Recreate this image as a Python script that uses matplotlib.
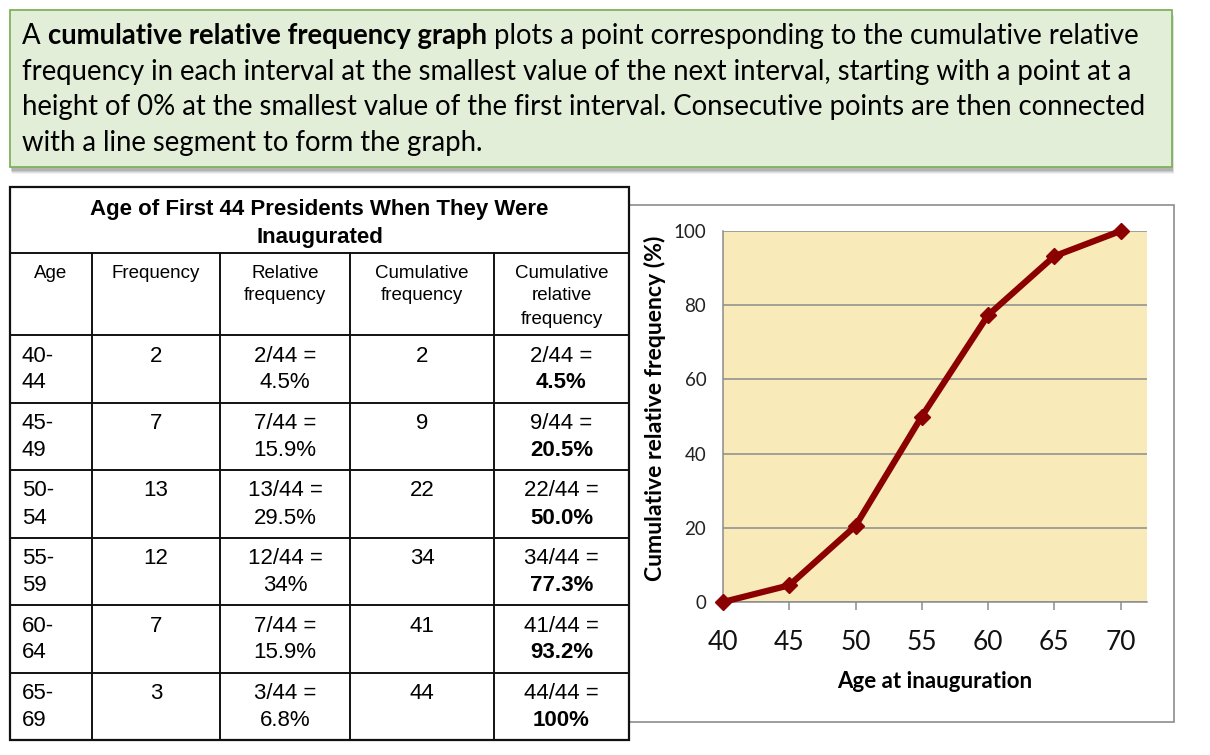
import matplotlib
matplotlib.use("Agg")
import matplotlib.pyplot as plt
from matplotlib.patches import Rectangle

# -------------------------
# data
# -------------------------
age_bins = ["40-44", "45-49", "50-54", "55-59", "60-64", "65-69"]
freq = [2, 7, 13, 12, 7, 3]
rel_freq = ["4.5%", "15.9%", "29.5%", "34%", "15.9%", "6.8%"]
cum_freq = [2, 9, 22, 34, 41, 44]
cum_rel = ["4.5%", "20.5%", "50.0%", "77.3%", "93.2%", "100%"]
total = 44

ages = [40, 45, 50, 55, 60, 65, 70]
cum_rel_pct = [0, 4.5, 20.5, 50.0, 77.3, 93.2, 100]

headers = [["Age"], ["Frequency"], ["Relative", "frequency"],
           ["Cumulative", "frequency"], ["Cumulative", "relative", "frequency"]]
table_title = ["Age of First 44 Presidents When They Were", "Inaugurated"]

intro_bold = "cumulative relative frequency graph"
intro_lines = [
    "plots a point corresponding to the cumulative relative",
    "frequency in each interval at the smallest value of the next interval, starting with a point at a",
    "height of 0% at the smallest value of the first interval. Consecutive points are then connected",
    "with a line segment to form the graph.",
]

W, H = 1210, 755
fig = plt.figure(figsize=(W / 100, H / 100), dpi=100)
bg = fig.add_axes([0, 0, 1, 1])
bg.set_xlim(0, W)
bg.set_ylim(H, 0)
bg.axis("off")

# -------------------------
# intro box
# -------------------------
for i, a in enumerate([0.05, 0.07, 0.09, 0.12]):
    off = 6 - i
    bg.add_patch(Rectangle((10 + off * 0.3, 10 + off), 1162, 158, facecolor="black",
                           alpha=a, edgecolor="none", zorder=1))
bg.add_patch(Rectangle((10, 10), 1162, 157, facecolor="#E3EED9", edgecolor="#7DB35A",
                       lw=1.3, zorder=2))

txt_font = dict(family="Lato", fontsize=19.8, color="black", va="center", zorder=3)
line_y = [36, 72, 107, 143]
fig.canvas.draw()
rend = fig.canvas.get_renderer()
inv = bg.transData.inverted()

x = 22
for s, w in [("A ", "normal"), (intro_bold, "bold"), (" " + intro_lines[0], "normal")]:
    t = bg.text(x, line_y[0], s, fontweight=w, **txt_font)
    bb = t.get_window_extent(renderer=rend)
    x = inv.transform((bb.x1, bb.y0))[0]
for s, y in zip(intro_lines[1:], line_y[1:]):
    bg.text(22, y, s, **txt_font)

# -------------------------
# table
# -------------------------
col_x = [10, 92, 220, 350, 494, 629]
title_top, head_top, rows_top, tab_bot = 187, 253, 335, 740
row_h = (tab_bot - rows_top) / len(age_bins)

# chart frame (partly behind the table)
bg.add_patch(Rectangle((600, 205), 574, 517, facecolor="white", edgecolor="#8C8C8C",
                       lw=1.2, zorder=1))
bg.add_patch(Rectangle((col_x[0], title_top), col_x[-1] - col_x[0], tab_bot - title_top,
                       facecolor="white", edgecolor="#111111", lw=1.6, zorder=2))
lc = "#111111"
bg.plot([col_x[0], col_x[-1]], [head_top, head_top], color=lc, lw=1.4, zorder=3)
for k in range(len(age_bins)):
    yy = rows_top + k * row_h
    bg.plot([col_x[0], col_x[-1]], [yy, yy], color=lc, lw=1.4, zorder=3)
for cx in col_x[1:-1]:
    bg.plot([cx, cx], [head_top, tab_bot], color=lc, lw=1.4, zorder=3)

tfont = dict(family="Liberation Sans", color="black", va="center", zorder=4)
cx_mid = (col_x[0] + col_x[-1]) / 2
for s, y in zip(table_title, [209, 237]):
    bg.text(cx_mid, y, s, ha="center", fontsize=16, fontweight="bold", **tfont)

for j, lines in enumerate(headers):
    cx = (col_x[j] + col_x[j + 1]) / 2
    for i, s in enumerate(lines):
        bg.text(cx, 273 + i * 23, s, ha="center", fontsize=13.5, **tfont)

for k in range(len(age_bins)):
    top = rows_top + k * row_h
    y1, y2 = top + 21, top + 48
    a, b = age_bins[k].split("-")
    bg.text(22, y1, a + "-", ha="left", fontsize=16, **tfont)
    bg.text(22, y2, b, ha="left", fontsize=16, **tfont)
    cells = [
        [str(freq[k])],
        [f"{freq[k]}/{total} =", rel_freq[k]],
        [str(cum_freq[k])],
        [f"{cum_freq[k]}/{total} =", cum_rel[k]],
    ]
    for j, lines in enumerate(cells, start=1):
        cx = (col_x[j] + col_x[j + 1]) / 2
        for i, s in enumerate(lines):
            fw = "bold" if (j == 4 and i == 1) else "normal"
            bg.text(cx, [y1, y2][i], s, ha="center", fontsize=16, fontweight=fw, **tfont)

# -------------------------
# chart
# -------------------------
left, right, top_px, bot_px = 723, 1147, 231, 602
ax = fig.add_axes([left / W, 1 - bot_px / H, (right - left) / W, (bot_px - top_px) / H])
ax.set_facecolor("#F9EAB9")
ax.plot(ages, cum_rel_pct, color="#8B0000", lw=4.5, marker="D", markersize=8,
        clip_on=False, zorder=5)
ax.set_xlim(40, 72)
ax.set_ylim(0, 100)
ax.set_xticks(ages)
ax.set_yticks([0, 20, 40, 60, 80, 100])
ax.yaxis.grid(True, color="#8C8C8C", lw=1.1)
ax.set_axisbelow(True)
for sp in ["top", "right"]:
    ax.spines[sp].set_visible(False)
for sp in ["left", "bottom"]:
    ax.spines[sp].set_color("#8C8C8C")
    ax.spines[sp].set_linewidth(1.1)
ax.tick_params(axis="y", length=0, pad=12, labelsize=13.5, labelcolor="#222222")
ax.tick_params(axis="x", length=6, width=1.1, color="#8C8C8C", pad=14,
               labelsize=19, labelcolor="#111111")
for lab in ax.get_xticklabels() + ax.get_yticklabels():
    lab.set_family("Lato")
ax.set_xlabel("Age at inauguration", family="Lato", fontsize=16, fontweight="bold",
              labelpad=12)
ax.set_ylabel("Cumulative relative frequency (%)", family="Lato", fontsize=16.6,
              fontweight="bold", va="center")
ax.yaxis.set_label_coords(-0.160, 0.523)

fig.savefig("out.png", dpi=100)
